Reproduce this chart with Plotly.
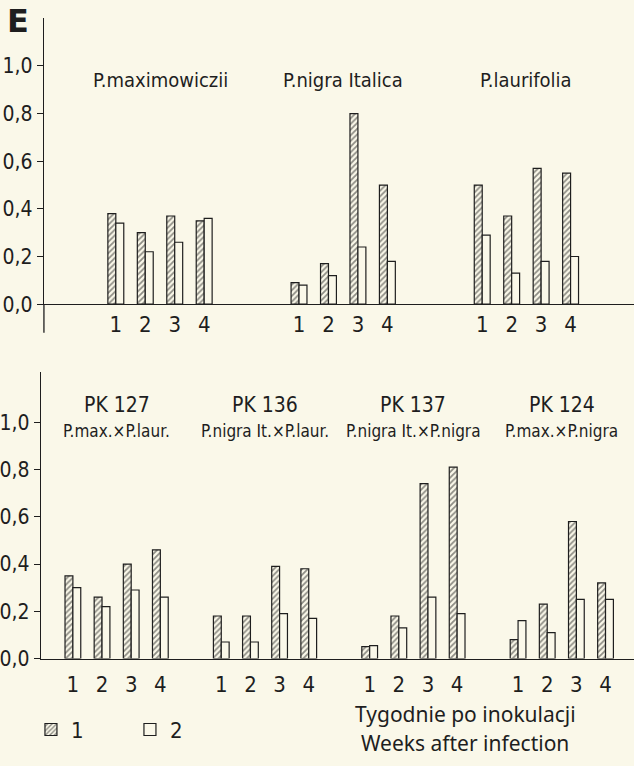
import plotly.graph_objects as go

# ---------------- data ----------------
weeks = ["1", "2", "3", "4"]
series_names = ["1", "2"]

top_groups = ["P.maximowiczii", "P.nigra Italica", "P.laurifolia"]
top_s1 = [[0.38, 0.30, 0.37, 0.35],
          [0.09, 0.17, 0.80, 0.50],
          [0.50, 0.37, 0.57, 0.55]]
top_s2 = [[0.34, 0.22, 0.26, 0.36],
          [0.08, 0.12, 0.24, 0.18],
          [0.29, 0.13, 0.18, 0.20]]

bottom_codes = ["PK 127", "PK 136", "PK 137", "PK 124"]
bottom_crosses = ["P.max.×P.laur.", "P.nigra It.×P.laur.",
                  "P.nigra It.×P.nigra", "P.max.×P.nigra"]
bot_s1 = [[0.35, 0.26, 0.40, 0.46],
          [0.18, 0.18, 0.39, 0.38],
          [0.05, 0.18, 0.74, 0.81],
          [0.08, 0.23, 0.58, 0.32]]
bot_s2 = [[0.30, 0.22, 0.29, 0.26],
          [0.07, 0.07, 0.19, 0.17],
          [0.055, 0.13, 0.26, 0.19],
          [0.16, 0.11, 0.25, 0.25]]

y_tickvals = [0.0, 0.2, 0.4, 0.6, 0.8, 1.0]
y_ticktext = ["0,0", "0,2", "0,4", "0,6", "0,8", "1,0"]

x_title_lines = ["Tygodnie po inokulacji", "Weeks after infection"]

# ---------------- style ----------------
BG = "#faf8e9"
INK = "#1e1e1e"
FONT = "DejaVu Sans Condensed, Liberation Sans Narrow, Roboto, sans-serif"
HAND = "Noto Sans, DejaVu Sans, sans-serif"
W, H = 634, 766

TOP_GROUP_STEP = 6.22
BOT_GROUP_STEP = 5.09


def positions(n_groups, step):
    xs = []
    for g in range(n_groups):
        for w in range(len(weeks)):
            xs.append(g * step + w)
    return xs


def flat(v):
    return [a for row in v for a in row]


fig = go.Figure()

hatch = dict(shape="/", fgcolor="#222222", bgcolor=BG, size=4, solidity=0.45)

xt = positions(len(top_groups), TOP_GROUP_STEP)
xb = positions(len(bottom_codes), BOT_GROUP_STEP)

for xs, s1, s2, xa, ya, show in [(xt, top_s1, top_s2, "x", "y", True),
                                  (xb, bot_s1, bot_s2, "x2", "y2", False)]:
    fig.add_trace(go.Bar(x=xs, y=flat(s1), name=series_names[0], xaxis=xa, yaxis=ya,
                         marker=dict(color=BG, pattern=hatch,
                                     line=dict(color=INK, width=1.2)),
                         showlegend=show, legendgroup="1"))
    fig.add_trace(go.Bar(x=xs, y=flat(s2), name=series_names[1], xaxis=xa, yaxis=ya,
                         marker=dict(color=BG, line=dict(color=INK, width=1.2)),
                         showlegend=show, legendgroup="2"))

# ---------------- axes ----------------
top_px = (43, 18, 309)   # axis x, top y, baseline y
bot_px = (40, 378, 669)
top_unit = 29.5
bot_unit = 29.2
top_first = 115
bot_first = 72

common_y = dict(tickvals=y_tickvals, ticktext=y_ticktext, ticks="outside", ticklen=6,
                tickcolor=INK, tickwidth=1.2, showline=True, linecolor=INK, linewidth=1.3,
                showgrid=False, zeroline=False, tickfont=dict(family=FONT, size=21, color=INK))
common_x = dict(showline=True, linecolor=INK, linewidth=1.3, showgrid=False, zeroline=False,
                ticks="", ticktext=weeks * 4, tickfont=dict(family=FONT, size=22, color=INK))

fig.update_layout(
    xaxis=dict(domain=[top_px[0] / W, 1], anchor="y",
               range=[(top_px[0] - top_first) / top_unit, (W - top_first) / top_unit],
               tickvals=xt, **common_x),
    yaxis=dict(domain=[1 - top_px[2] / H, 1 - top_px[1] / H], anchor="x",
               range=[0, (top_px[2] - top_px[1]) / 242.0], **common_y),
    xaxis2=dict(domain=[bot_px[0] / W, 1], anchor="y2",
                range=[(bot_px[0] - bot_first) / bot_unit, (W - bot_first) / bot_unit],
                tickvals=xb, ticklabelstandoff=6, **common_x),
    yaxis2=dict(domain=[1 - bot_px[2] / H, 1 - bot_px[1] / H], anchor="x2",
                range=[0, (bot_px[2] - bot_px[1]) / 240.0], **common_y),
    barmode="group", bargap=0.46, bargroupgap=0.0,
    width=W, height=H,
    margin=dict(l=0, r=0, t=0, b=0),
    paper_bgcolor=BG, plot_bgcolor=BG,
    font=dict(family=FONT, color=INK),
    legend=dict(orientation="h", x=30 / W, y=1 - 720 / H, xanchor="left", yanchor="top",
                font=dict(family=FONT, size=22, color=INK), bgcolor="rgba(0,0,0,0)",
                entrywidth=54, entrywidthmode="pixels", itemwidth=30,
                traceorder="normal"),
)

# axis stub below top baseline
fig.add_shape(type="line", xref="x domain", yref="y domain", x0=0, x1=0, y0=0, y1=-0.1,
              line=dict(color=INK, width=1.3))

# ---------------- annotations ----------------
ann = []
for g, name in enumerate(top_groups):
    ann.append(dict(x=g * TOP_GROUP_STEP + 1.5, y=0.94, xref="x", yref="y", text=name,
                    xanchor="center", yanchor="middle",
                    showarrow=False, font=dict(family=FONT, size=20, color=INK)))
for g, (code, cross) in enumerate(zip(bottom_codes, bottom_crosses)):
    ann.append(dict(x=g * BOT_GROUP_STEP + 1.5, y=1.075, xref="x2", yref="y2", text=code,
                    xanchor="center", yanchor="middle",
                    showarrow=False, font=dict(family=FONT, size=21, color=INK)))
    ann.append(dict(x=g * BOT_GROUP_STEP + 1.5, y=0.965, xref="x2", yref="y2", text=cross,
                    xanchor="center", yanchor="middle",
                    showarrow=False, font=dict(family=FONT, size=17, color=INK)))
ann.append(dict(x=17 / W, y=1 - 21 / H, xref="paper", yref="paper", text="<b>E</b>",
                xanchor="center", yanchor="middle",
                showarrow=False, font=dict(family="DejaVu Sans, sans-serif", size=32, color=INK)))
for i, line in enumerate(x_title_lines):
    ann.append(dict(x=465 / W, y=1 - (725 + 30 * i) / H, xref="paper", yref="paper",
                    text=line, xanchor="center", yanchor="middle",
                    showarrow=False, font=dict(family=HAND, size=21, color=INK)))
fig.update_layout(annotations=ann)

fig.write_html("out.html")
